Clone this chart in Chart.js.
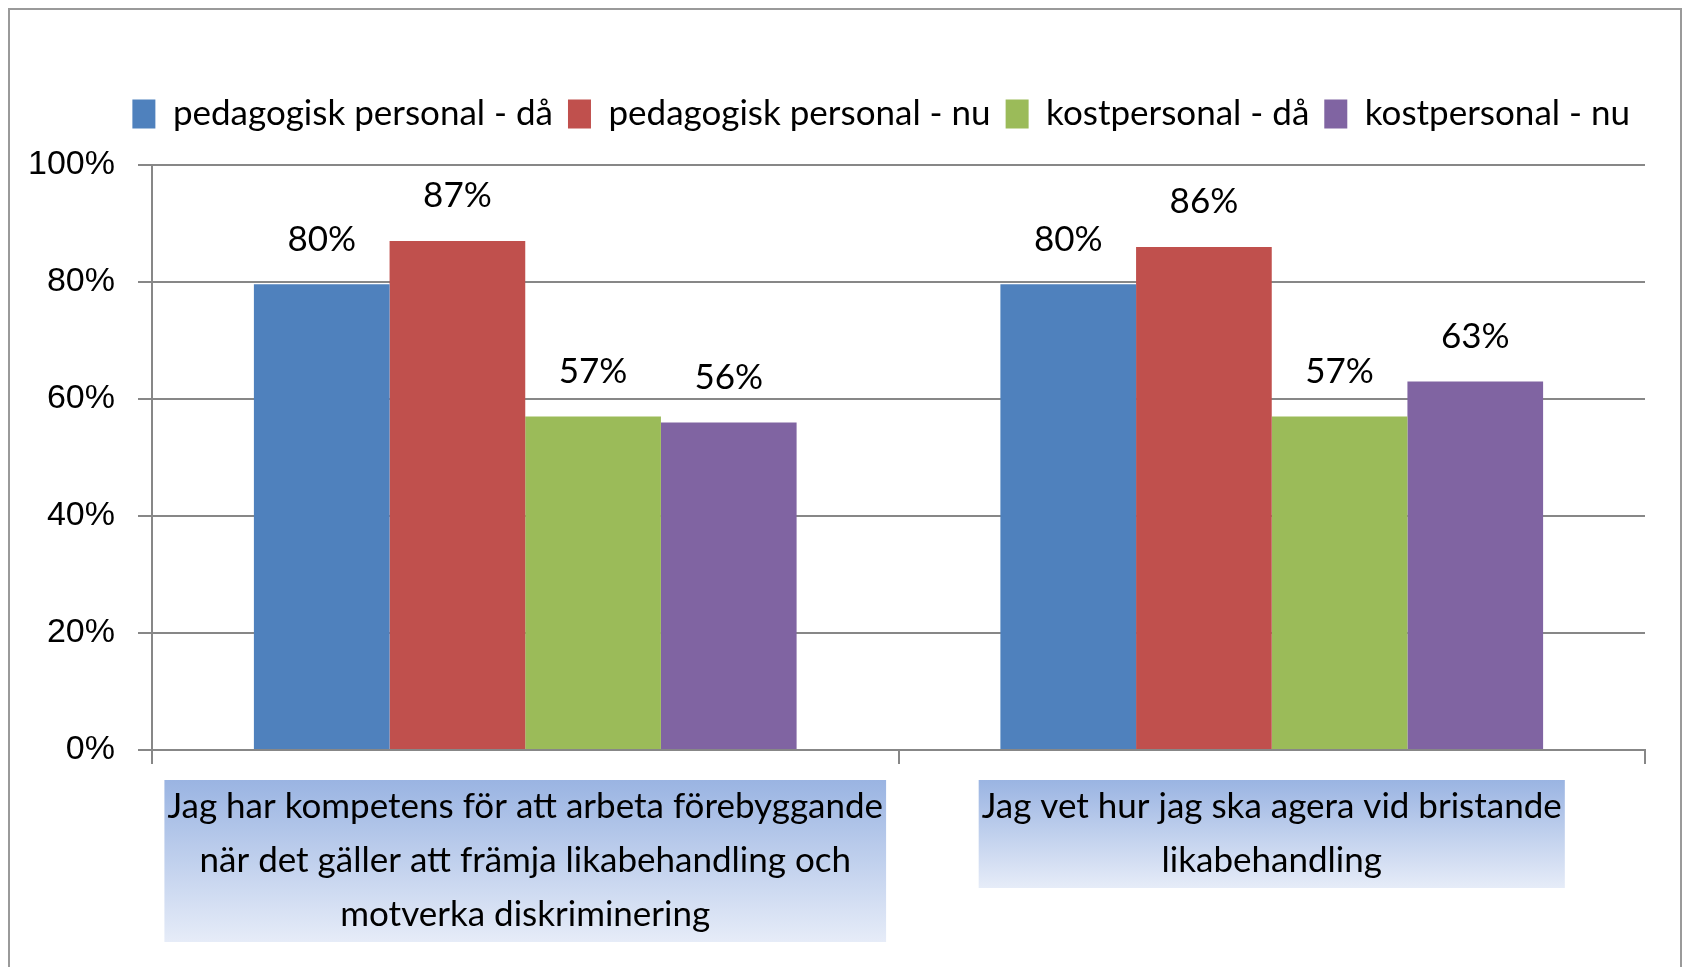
<!DOCTYPE html>
<html lang="sv">
<head>
<meta charset="utf-8">
<title>Likabehandling</title>
<script src="https://cdn.jsdelivr.net/npm/chart.js@4.4.1/dist/chart.umd.min.js"></script>
<style>
  html, body { margin: 0; padding: 0; background: #fff; overflow: hidden; }
  #wrap { position: relative; width: 1688px; height: 967px; }
  canvas { position: absolute; left: 0; top: 0; }
  #frame {
    position: absolute; left: 8px; top: 8px; width: 1674px; height: 1000px;
    border: 2px solid #9a9a9a; box-sizing: border-box; pointer-events: none;
  }
</style>
</head>
<body>
<div id="wrap">
  <canvas id="chart" width="1688" height="967"></canvas>
  <div id="frame"></div>
</div>
<script>
// Data
const categories = [
  ['Jag har kompetens för att arbeta förebyggande', 'när det gäller att främja likabehandling och', 'motverka diskriminering'],
  ['Jag vet hur jag ska agera vid bristande', 'likabehandling']
];
const seriesNames = ['pedagogisk personal - då', 'pedagogisk personal - nu', 'kostpersonal - då', 'kostpersonal - nu'];
const pedagogiskDa = [79.6, 79.6];
const pedagogiskNu = [87, 86];
const kostDa = [57, 57];
const kostNu = [56, 63];
const seriesColors = ['#4F81BD', '#C0504D', '#9BBB59', '#8064A2'];

const TEXT_FONT = "Lato, 'Liberation Sans', sans-serif";
const GRID = '#878787';

// Push the plot area down a bit below the legend
const legendSpacing = {
  id: 'legendSpacing',
  beforeInit: (chart) => {
    const fitValue = chart.legend.fit;
    chart.legend.fit = function fit() {
      fitValue.bind(chart.legend)();
      this.height += 23.5;
    };
  }
};

// Blue gradient boxes behind the category labels
const labelBoxes = {
  id: 'labelBoxes',
  beforeDraw: (chart) => {
    const ctx = chart.ctx;
    const x = chart.scales.x;
    const tOpts = x.options.ticks;
    const font = Chart.helpers.toFont(tOpts.font);
    const top = x.top + x.options.grid.tickLength + tOpts.padding;
    ctx.save();
    ctx.fillStyle = '#fff';
    ctx.fillRect(0, 0, chart.width, chart.height);
    ctx.font = font.string;
    x.ticks.forEach((tick, i) => {
      const lines = Array.isArray(tick.label) ? tick.label : [tick.label];
      const w = Math.max(...lines.map(l => ctx.measureText(l).width)) + 6;
      const h = lines.length * font.lineHeight;
      const cx = x.getPixelForTick(i);
      const grad = ctx.createLinearGradient(0, top, 0, top + h);
      grad.addColorStop(0, '#9AB4E2');
      grad.addColorStop(1, '#E6ECF8');
      ctx.fillStyle = grad;
      ctx.fillRect(cx - w / 2, top, w, h);
    });
    ctx.restore();
  }
};

// Percent labels above each bar
const valueLabels = {
  id: 'valueLabels',
  afterDatasetsDraw: (chart) => {
    const ctx = chart.ctx;
    ctx.save();
    ctx.font = `35px ${TEXT_FONT}`;
    ctx.fillStyle = '#000';
    ctx.textAlign = 'center';
    ctx.textBaseline = 'middle';
    chart.data.datasets.forEach((ds, di) => {
      chart.getDatasetMeta(di).data.forEach((bar, i) => {
        ctx.fillText(Math.round(ds.data[i]) + '%', bar.x, bar.y - 45);
      });
    });
    ctx.restore();
  }
};

const seriesData = [pedagogiskDa, pedagogiskNu, kostDa, kostNu];

new Chart(document.getElementById('chart'), {
  type: 'bar',
  data: {
    labels: categories,
    datasets: seriesNames.map((name, i) => ({
      label: name,
      data: seriesData[i],
      backgroundColor: seriesColors[i],
      borderWidth: 0,
      categoryPercentage: 0.727,
      barPercentage: 1.0
    }))
  },
  options: {
    responsive: false,
    animation: false,
    layout: { padding: { top: 81.5, left: 0, right: 43, bottom: 0 } },
    plugins: {
      tooltip: { enabled: false },
      legend: {
        position: 'top',
        align: 'end',
        labels: {
          boxWidth: 23,
          boxHeight: 29,
          padding: 15,
          color: '#000',
          font: { family: TEXT_FONT, size: 35 }
        }
      }
    },
    scales: {
      x: {
        afterFit: (scale) => { scale.height = 217; },
        grid: {
          offset: true,
          drawOnChartArea: false,
          color: GRID,
          lineWidth: 2,
          tickLength: 14
        },
        border: { color: GRID, width: 2 },
        ticks: {
          color: '#000',
          padding: 16,
          maxRotation: 0,
          autoSkip: false,
          font: { family: TEXT_FONT, size: 35, lineHeight: '54px' }
        }
      },
      y: {
        min: 0,
        max: 100,
        afterFit: (scale) => { scale.width = 152; },
        grid: { color: GRID, lineWidth: 2, tickLength: 14 },
        border: { color: GRID, width: 2 },
        ticks: {
          stepSize: 20,
          padding: 23,
          color: '#000',
          font: { family: "'Liberation Sans', Arial, sans-serif", size: 34 },
          callback: (v) => v + '%'
        }
      }
    }
  },
  plugins: [legendSpacing, labelBoxes, valueLabels]
});
</script>
</body>
</html>
